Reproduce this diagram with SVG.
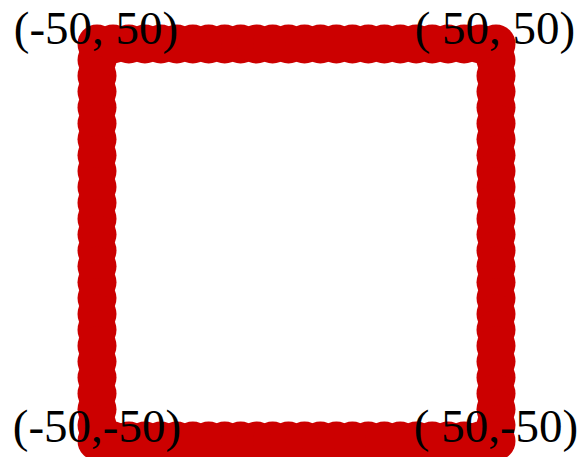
<svg xmlns="http://www.w3.org/2000/svg" xmlns:xlink="http://www.w3.org/1999/xlink" width="581" height="457" viewBox="0 0 581 457">
<style>
.lbl{font-family:"Liberation Serif","Times New Roman",serif;font-size:47px;fill:#000;text-anchor:middle}
</style>
<defs><circle id="d" r="19.5" fill="#cc0000"/></defs>
<rect width="581" height="457" fill="#fff"/>
<g id="top">
<use href="#d" x="97" y="44"/><use href="#d" x="113" y="44"/><use href="#d" x="128.9" y="44"/><use href="#d" x="144.9" y="44"/><use href="#d" x="160.8" y="44"/><use href="#d" x="176.8" y="44"/><use href="#d" x="192.8" y="44"/><use href="#d" x="208.7" y="44"/><use href="#d" x="224.7" y="44"/><use href="#d" x="240.6" y="44"/><use href="#d" x="256.6" y="44"/><use href="#d" x="272.6" y="44"/><use href="#d" x="288.5" y="44"/><use href="#d" x="304.5" y="44"/><use href="#d" x="320.4" y="44"/><use href="#d" x="336.4" y="44"/><use href="#d" x="352.4" y="44"/><use href="#d" x="368.3" y="44"/><use href="#d" x="384.3" y="44"/><use href="#d" x="400.2" y="44"/><use href="#d" x="416.2" y="44"/><use href="#d" x="432.2" y="44"/><use href="#d" x="448.1" y="44"/><use href="#d" x="464.1" y="44"/><use href="#d" x="480" y="44"/><use href="#d" x="496" y="44"/>
</g>
<g id="right">
<use href="#d" x="496" y="59.9"/><use href="#d" x="496" y="75.8"/><use href="#d" x="496" y="91.6"/><use href="#d" x="496" y="107.5"/><use href="#d" x="496" y="123.4"/><use href="#d" x="496" y="139.3"/><use href="#d" x="496" y="155.2"/><use href="#d" x="496" y="171"/><use href="#d" x="496" y="186.9"/><use href="#d" x="496" y="202.8"/><use href="#d" x="496" y="218.7"/><use href="#d" x="496" y="234.6"/><use href="#d" x="496" y="250.4"/><use href="#d" x="496" y="266.3"/><use href="#d" x="496" y="282.2"/><use href="#d" x="496" y="298.1"/><use href="#d" x="496" y="314"/><use href="#d" x="496" y="329.8"/><use href="#d" x="496" y="345.7"/><use href="#d" x="496" y="361.6"/><use href="#d" x="496" y="377.5"/><use href="#d" x="496" y="393.4"/><use href="#d" x="496" y="409.2"/><use href="#d" x="496" y="425.1"/><use href="#d" x="496" y="441"/>
</g>
<g id="bottom">
<use href="#d" x="97" y="441"/><use href="#d" x="113" y="441"/><use href="#d" x="128.9" y="441"/><use href="#d" x="144.9" y="441"/><use href="#d" x="160.8" y="441"/><use href="#d" x="176.8" y="441"/><use href="#d" x="192.8" y="441"/><use href="#d" x="208.7" y="441"/><use href="#d" x="224.7" y="441"/><use href="#d" x="240.6" y="441"/><use href="#d" x="256.6" y="441"/><use href="#d" x="272.6" y="441"/><use href="#d" x="288.5" y="441"/><use href="#d" x="304.5" y="441"/><use href="#d" x="320.4" y="441"/><use href="#d" x="336.4" y="441"/><use href="#d" x="352.4" y="441"/><use href="#d" x="368.3" y="441"/><use href="#d" x="384.3" y="441"/><use href="#d" x="400.2" y="441"/><use href="#d" x="416.2" y="441"/><use href="#d" x="432.2" y="441"/><use href="#d" x="448.1" y="441"/><use href="#d" x="464.1" y="441"/><use href="#d" x="480" y="441"/>
</g>
<g id="left">
<use href="#d" x="97" y="59.9"/><use href="#d" x="97" y="75.8"/><use href="#d" x="97" y="91.6"/><use href="#d" x="97" y="107.5"/><use href="#d" x="97" y="123.4"/><use href="#d" x="97" y="139.3"/><use href="#d" x="97" y="155.2"/><use href="#d" x="97" y="171"/><use href="#d" x="97" y="186.9"/><use href="#d" x="97" y="202.8"/><use href="#d" x="97" y="218.7"/><use href="#d" x="97" y="234.6"/><use href="#d" x="97" y="250.4"/><use href="#d" x="97" y="266.3"/><use href="#d" x="97" y="282.2"/><use href="#d" x="97" y="298.1"/><use href="#d" x="97" y="314"/><use href="#d" x="97" y="329.8"/><use href="#d" x="97" y="345.7"/><use href="#d" x="97" y="361.6"/><use href="#d" x="97" y="377.5"/><use href="#d" x="97" y="393.4"/><use href="#d" x="97" y="409.2"/><use href="#d" x="97" y="425.1"/>
</g>
<g id="labels">
<text class="lbl" x="96" y="44">(-50, 50)</text>
<text class="lbl" x="495" y="44">( 50, 50)</text>
<text class="lbl" x="97" y="442">(-50,-50)</text>
<text class="lbl" x="496" y="442">( 50,-50)</text>
</g>
</svg>
